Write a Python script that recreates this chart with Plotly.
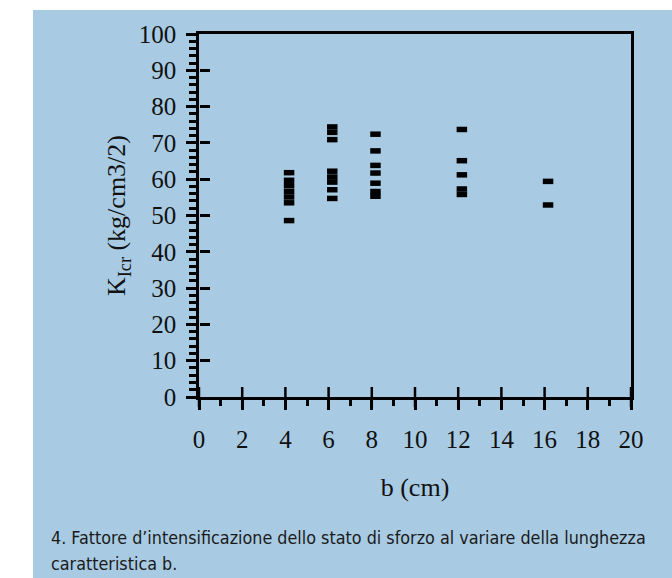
import plotly.graph_objects as go

# Data
b_4 = [4.17] * 7
k_4 = [61.8, 59.7, 58.2, 56.6, 55.1, 53.5, 48.6]
b_6 = [6.17] * 8
k_6 = [74.4, 72.9, 70.9, 62.2, 60.6, 59.2, 57.1, 54.7]
b_8 = [8.17] * 7
k_8 = [72.4, 67.8, 63.8, 61.7, 58.9, 56.6, 55.3]
b_12 = [12.17] * 5
k_12 = [73.7, 65.1, 61.2, 57.3, 55.8]
b_16 = [16.16] * 2
k_16 = [59.4, 52.9]

x_ticks = list(range(0, 21, 2))
y_ticks = list(range(0, 101, 10))

caption_lines = [
    "4. Fattore d\u2019intensificazione dello stato di sforzo al variare della lunghezza",
    "caratteristica b.",
]

BLUE = "#a8cbe3"
SERIF = "Liberation Serif, Times New Roman, serif"
SANS = "Liberation Sans Narrow, DejaVu Sans Condensed, Roboto, sans-serif"

xs = b_4 + b_6 + b_8 + b_12 + b_16
ys = k_4 + k_6 + k_8 + k_12 + k_16

fig = go.Figure()
fig.add_trace(go.Scatter(
    x=xs, y=ys, mode="markers",
    marker=dict(symbol="line-ew", size=7.5, color="black",
                line=dict(color="black", width=5.5)),
    showlegend=False, hoverinfo="skip", cliponaxis=False,
))
# major x ticks that cross the axis line (drawn through the x scale)
fig.add_trace(go.Scatter(
    x=x_ticks, y=[0] * len(x_ticks), mode="markers",
    marker=dict(symbol="line-ns", size=14.3, color="black",
                line=dict(color="black", width=2.5)),
    showlegend=False, hoverinfo="skip", cliponaxis=False,
))
# invisible trace for overlay y axis (inside halves of major ticks)
fig.add_trace(go.Scatter(x=[None], y=[None], xaxis="x2", yaxis="y2",
                         mode="markers", showlegend=False))

L, R, T, B = 199, 41, 34, 181
W, H = 672, 578
pw, ph = W - L - R, H - T - B

axis_common = dict(showgrid=False, zeroline=False, linecolor="black",
                   linewidth=2.5, tickcolor="black", tickwidth=2.5)

fig.update_layout(
    width=W, height=H,
    margin=dict(l=L, r=R, t=T, b=B, autoexpand=False),
    paper_bgcolor=BLUE, plot_bgcolor=BLUE,
    xaxis=dict(range=[0, 20], tickmode="array", tickvals=x_ticks,
               ticks="outside", ticklen=10, showline=True, mirror=True,
               minor=dict(dtick=1, tick0=0, ticks="outside", ticklen=6,
                          tickwidth=2.5, tickcolor="black", showgrid=False),
               tickfont=dict(family=SERIF, size=25, color="#111"),
               ticklabelstandoff=8,
               title=dict(text="b (cm)", standoff=27,
                          font=dict(family=SERIF, size=26, color="#111")),
               automargin=False, **axis_common),
    yaxis=dict(range=[0, 100], tickmode="array", tickvals=y_ticks,
               ticks="outside", ticklen=10, showline=True, mirror=True,
               minor=dict(dtick=2, tick0=0, ticks="outside", ticklen=7,
                          tickwidth=2.5, tickcolor="black", showgrid=False),
               tickfont=dict(family=SERIF, size=25, color="#111"),
               ticklabelstandoff=5,
               title=dict(text="K<sub>Icr</sub> (kg/cm3/2)", standoff=6,
                          font=dict(family=SERIF, size=26, color="#111")),
               automargin=False, **axis_common),
    xaxis2=dict(range=[0, 20], overlaying="x", side="bottom",
                anchor="free", position=0, ticks="",
                showticklabels=False, showgrid=False, zeroline=False,
                showline=False),
    yaxis2=dict(range=[0, 100], overlaying="y", side="left",
                anchor="free", position=0,
                tickmode="array", tickvals=y_ticks, ticks="inside",
                ticklen=10, tickwidth=2.5, tickcolor="black",
                showticklabels=False, showgrid=False, zeroline=False,
                showline=False),
)

def px_to_paper_x(px):
    return (px - L) / pw

def px_to_paper_y(py):
    return 1 - (py - T) / ph

# white page margin around the blue panel (left strip and top strip)
fig.add_shape(type="rect", xref="paper", yref="paper",
              x0=px_to_paper_x(-5), x1=px_to_paper_x(33),
              y0=px_to_paper_y(H + 5), y1=px_to_paper_y(-5),
              fillcolor="white", line=dict(width=0), layer="above")
fig.add_shape(type="rect", xref="paper", yref="paper",
              x0=px_to_paper_x(-5), x1=px_to_paper_x(W + 5),
              y0=px_to_paper_y(10), y1=px_to_paper_y(-5),
              fillcolor="white", line=dict(width=0), layer="above")

for i, line in enumerate(caption_lines):
    fig.add_annotation(
        xref="paper", yref="paper",
        x=px_to_paper_x(49), y=px_to_paper_y(537 + 26 * i),
        xanchor="left", yanchor="middle", align="left", showarrow=False,
        text=line,
        font=dict(family=SANS, size=17.8, color="#1a1a1a"),
    )

fig.write_html("out.html")
